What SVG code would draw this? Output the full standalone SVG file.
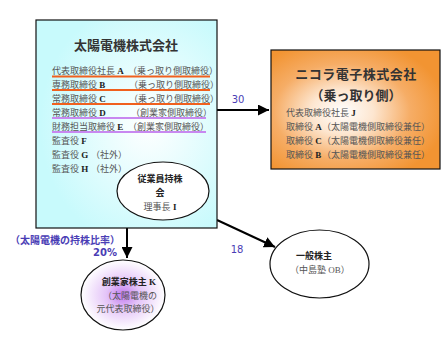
<svg xmlns="http://www.w3.org/2000/svg" width="441" height="340" viewBox="0 0 441 340">
<style>
.t{font-family:"Liberation Serif","Noto Sans CJK JP",serif;font-size:9px;fill:#555}
.b{font-weight:bold;fill:#222}
.ttl{font-family:"Liberation Serif","Noto Sans CJK JP",serif;font-size:13px;font-weight:bold;fill:#333}
.lbl{font-family:"DejaVu Sans","Noto Sans CJK JP",sans-serif;font-size:10px;fill:#4a3db5}
.conn{stroke:#000;stroke-width:2;fill:none}
.ul-o{stroke:#f0601e;stroke-width:2}
.ul-p{stroke:#c888f0;stroke-width:2}
.edge{stroke:#111;stroke-width:1.2}
</style>
<defs>
<radialGradient id="gCyan" cx="0.62" cy="0.5" r="0.6">
<stop offset="0" stop-color="#ffffff"/>
<stop offset="1" stop-color="#c8fafc"/>
</radialGradient>
<radialGradient id="gOrange" cx="0.42" cy="0.52" r="0.62">
<stop offset="0" stop-color="#ffffff"/>
<stop offset="0.3" stop-color="#fde6d0"/>
<stop offset="0.65" stop-color="#f6ad66"/>
<stop offset="1" stop-color="#f29432"/>
</radialGradient>
<radialGradient id="gPurple" cx="0.5" cy="0.5" r="0.5">
<stop offset="0" stop-color="#c078ee"/>
<stop offset="0.4" stop-color="#e4c4f8"/>
<stop offset="1" stop-color="#ffffff"/>
</radialGradient>
<marker id="ah" viewBox="0 0 10 10" refX="10" refY="5" markerWidth="5.5" markerHeight="5.5" orient="auto" markerUnits="strokeWidth">
<path d="M0,0 L10,5 L0,10 Z" fill="#000"/>
</marker>
</defs>

<g id="connectors">
<line class="conn" x1="217" y1="110" x2="269" y2="110" marker-end="url(#ah)"/>
<line class="conn" x1="127" y1="228" x2="127" y2="258" marker-end="url(#ah)"/>
<line class="conn" x1="217" y1="220" x2="275" y2="247" marker-end="url(#ah)"/>
<text class="lbl" x="238" y="103" text-anchor="middle">30</text>
<text class="lbl" x="237" y="253" text-anchor="middle">18</text>
<text class="lbl" x="10" y="244" font-weight="bold" font-size="9.5">（太陽電機の持株比率）</text>
<text class="lbl" x="117" y="256" text-anchor="end" font-weight="bold">20%</text>
</g>

<g id="taiyo">
<rect x="36" y="20" width="181" height="208" fill="url(#gCyan)" class="edge"/>
<text class="ttl" x="126" y="50" text-anchor="middle">太陽電機株式会社</text>
<text class="t" x="52" y="74">代表取締役社長 <tspan class="b">A</tspan></text>
<text class="t" x="128" y="74">（乗っ取り側取締役）</text>
<line class="ul-o" x1="52" y1="76.5" x2="210" y2="76.5"/>
<text class="t" x="52" y="88">専務取締役 <tspan class="b">B</tspan></text>
<text class="t" x="129" y="88">（乗っ取り側取締役）</text>
<line class="ul-o" x1="52" y1="90" x2="210" y2="90"/>
<text class="t" x="52" y="102">常務取締役 <tspan class="b">C</tspan></text>
<text class="t" x="129" y="102">（乗っ取り側取締役）</text>
<line class="ul-o" x1="52" y1="104" x2="210" y2="104"/>
<text class="t" x="52" y="116">常務取締役 <tspan class="b">D</tspan></text>
<text class="t" x="131" y="116">（創業家側取締役）</text>
<line class="ul-p" x1="52" y1="118" x2="206" y2="118"/>
<text class="t" x="52" y="130">財務担当取締役 <tspan class="b">E</tspan></text>
<text class="t" x="128" y="130">（創業家側取締役）</text>
<line class="ul-p" x1="52" y1="132" x2="206" y2="132"/>
<text class="t" x="52" y="144">監査役 <tspan class="b">F</tspan></text>
<text class="t" x="52" y="158">監査役 <tspan class="b">G</tspan></text>
<text class="t" x="91" y="158">（社外）</text>
<text class="t" x="52" y="172">監査役 <tspan class="b">H</tspan></text>
<text class="t" x="91" y="172">（社外）</text>
</g>

<g id="jugyoin">
<ellipse cx="163" cy="191" rx="46" ry="29" fill="#fff" class="edge"/>
<text class="t b" x="160" y="182" text-anchor="middle" font-size="9.5">従業員持株</text>
<text class="t b" x="160" y="196" text-anchor="middle" font-size="9.5">会</text>
<text class="t" x="160" y="210" text-anchor="middle">理事長 <tspan class="b">I</tspan></text>
</g>

<g id="nikora">
<rect x="271" y="50" width="169" height="119" fill="url(#gOrange)" class="edge"/>
<text class="ttl" x="356" y="79" text-anchor="middle" font-size="12.5" letter-spacing="0.5">ニコラ電子株式会社</text>
<text class="ttl" x="356" y="100" text-anchor="middle" font-size="12">（乗っ取り側）</text>
<text class="t" x="286" y="116">代表取締役社長 <tspan class="b">J</tspan></text>
<text class="t" x="286" y="130">取締役 <tspan class="b">A</tspan></text>
<text class="t" x="322" y="130" font-size="8.5">（太陽電機側取締役兼任）</text>
<text class="t" x="286" y="144">取締役 <tspan class="b">C</tspan></text>
<text class="t" x="322" y="144" font-size="8.5">（太陽電機側取締役兼任）</text>
<text class="t" x="286" y="158">取締役 <tspan class="b">B</tspan></text>
<text class="t" x="322" y="158" font-size="8.5">（太陽電機側取締役兼任）</text>
</g>

<g id="sogyoke">
<ellipse cx="123" cy="295" rx="42" ry="35" fill="url(#gPurple)" class="edge"/>
<text class="t b" x="129" y="285" text-anchor="middle">創業家株主 K</text>
<text class="t" x="130" y="299" text-anchor="middle">（太陽電機の</text>
<text class="t" x="128" y="312" text-anchor="middle">元代表取締役）</text>
</g>

<g id="ippan">
<ellipse cx="319.5" cy="264" rx="49.5" ry="34" fill="#fff" class="edge"/>
<text class="t b" x="314" y="259" text-anchor="middle">一般株主</text>
<text class="t" x="320" y="273" text-anchor="middle">（中島塾 OB）</text>
</g>
</svg>
